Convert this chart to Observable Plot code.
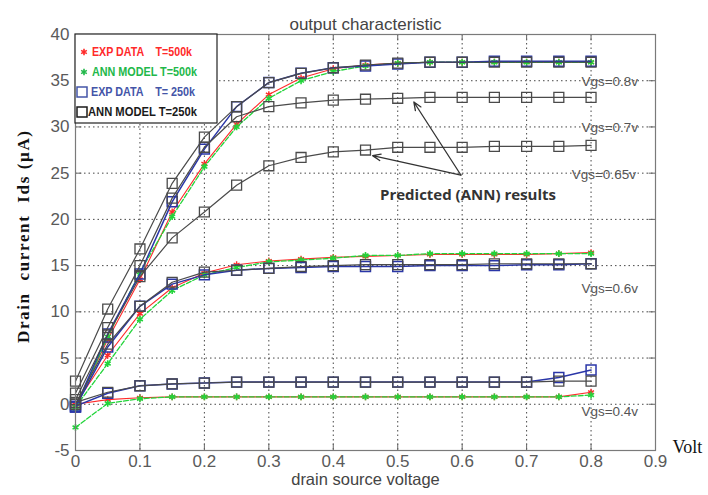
<!DOCTYPE html>
<html><head><meta charset="utf-8">
<script src="https://cdn.jsdelivr.net/npm/d3@7"></script>
<script src="https://cdn.jsdelivr.net/npm/@observablehq/plot@0.6"></script>
<style>body{margin:0;background:#fff}#chart{width:708px;height:495px}</style>
</head><body><div id="chart"></div>
<script>
// ---- data ----
const vds = [0,0.05,0.1,0.15,0.2,0.25,0.3,0.35,0.4,0.45,0.5,0.55,0.6,0.65,0.7,0.75,0.8];
const xTicks = [0,0.1,0.2,0.3,0.4,0.5,0.6,0.7,0.8,0.9];
const yTicks = [-5,0,5,10,15,20,25,30,35,40];

// Vgs = 0.8 V
const exp500_08 = [-0.2,7.0,13.5,20.8,26.0,30.3,33.5,35.3,36.3,36.7,36.9,37.0,37.0,37.0,37.0,37.0,37.0];
const ann500_08 = [-0.5,7.3,14.3,20.3,25.7,30.0,33.1,35.0,36.0,36.6,36.9,37.0,37.0,37.0,37.0,37.0,37.0];
const exp250_08 = [-0.3,7.6,14.1,21.9,27.6,32.2,34.8,35.8,36.4,36.6,36.8,37.0,37.0,37.1,37.1,37.1,37.1];
const ann250_08 = [2.5,10.3,16.8,23.9,28.9,32.2,34.8,35.8,36.4,36.7,36.9,37.0,37.0,37.0,37.0,37.0,37.0];
// Vgs = 0.7 V and 0.65 V (ANN prediction only)
const ann250_07 = [1.2,8.3,15.0,22.3,27.8,31.1,32.2,32.6,32.9,33.0,33.1,33.2,33.2,33.2,33.2,33.2,33.2];
const ann250_065 = [0.5,7.5,13.8,18.0,20.8,23.7,25.8,26.7,27.3,27.5,27.8,27.8,27.8,27.9,27.9,27.9,28.0];
// Vgs = 0.6 V
const exp500_06 = [0.0,5.3,9.8,12.6,14.2,15.1,15.5,15.7,15.9,16.0,16.1,16.2,16.2,16.2,16.2,16.3,16.4];
const ann500_06 = [-0.3,4.4,9.2,12.3,14.0,14.8,15.4,15.6,15.8,16.1,16.1,16.3,16.3,16.3,16.3,16.3,16.3];
const exp250_06 = [-0.3,6.2,10.6,13.0,14.0,14.5,14.7,14.8,14.9,14.9,14.9,15.0,15.0,15.0,15.1,15.1,15.2];
const ann250_06 = [0.0,6.5,10.6,13.2,14.3,14.5,14.7,14.9,15.0,15.1,15.1,15.1,15.1,15.2,15.2,15.2,15.2];
// Vgs = 0.4 V
const exp500_04 = [0.0,0.5,0.7,0.8,0.8,0.8,0.8,0.8,0.8,0.8,0.8,0.8,0.8,0.8,0.8,0.8,1.3];
const ann500_04 = [-2.5,0.1,0.6,0.8,0.8,0.8,0.8,0.8,0.8,0.8,0.8,0.8,0.8,0.8,0.8,0.8,1.0];
const exp250_04 = [-0.2,1.2,2.0,2.2,2.3,2.4,2.4,2.4,2.4,2.4,2.4,2.4,2.4,2.4,2.4,2.9,3.7];
const ann250_04 = [0.2,1.3,2.0,2.2,2.3,2.4,2.4,2.4,2.4,2.4,2.4,2.4,2.4,2.4,2.4,2.5,2.5];

const legendLabels = ["EXP DATA    T=500k","ANN MODEL T=500k","EXP DATA    T= 250k","ANN MODEL T=250k"];
const vgsLabels = ["Vgs=0.8v","Vgs=0.7v","Vgs=0.65v","Vgs=0.6v","Vgs=0.4v"];
const vgsLabelX = [0.785,0.785,0.77,0.785,0.785];
const vgsLabelY = [34.9,29.9,24.8,12.5,-0.85];
const noteText = "Predicted (ANN) results";
const noteX = 0.609, noteY = 22.6;
const arrowTail = [0.598, 24.8];
const arrowHeadsX = [0.525, 0.461];
const arrowHeadsY = [32.7, 26.9];

// ---- build tables ----
const seriesDefs = [
  {key:"exp500", curves:{"0.8":exp500_08,"0.6":exp500_06,"0.4":exp500_04}},
  {key:"ann500", curves:{"0.8":ann500_08,"0.6":ann500_06,"0.4":ann500_04}},
  {key:"exp250", curves:{"0.8":exp250_08,"0.6":exp250_06,"0.4":exp250_04}},
  {key:"ann250", curves:{"0.8":ann250_08,"0.7":ann250_07,"0.65":ann250_065,"0.6":ann250_06,"0.4":ann250_04}}
];
const rows = {};
for (const s of seriesDefs) {
  rows[s.key] = [];
  for (const [vgs, arr] of Object.entries(s.curves)) {
    arr.forEach((v,i)=>rows[s.key].push({x:vds[i], y:v, curve:vgs}));
  }
}
const vgsRows = vgsLabels.map((t,i)=>({t, x:vgsLabelX[i], y:vgsLabelY[i]}));
const arrows = arrowHeadsX.map((x,i)=>({x1:arrowTail[0], y1:arrowTail[1], x2:x, y2:arrowHeadsY[i]}));

const RED="#ff2a2a", GREEN="#22d43a", BLUE="#2a36a8", BLACK="#4a4a4a";
const grid = {stroke:"#333", strokeOpacity:0.9, strokeDasharray:"1.5,3", strokeWidth:1};
const xMin = 0, xMax = 0.9, yMin = -5, yMax = 40;
const tickLenX = 0.01, tickLenY = 0.7; // inner tick marks (MATLAB style)

const plot = Plot.plot({
  width:708, height:495,
  marginLeft:75, marginRight:53, marginTop:34, marginBottom:45,
  style:{fontFamily:"'Liberation Sans', Arial, sans-serif", background:"#fff"},
  x:{domain:[xMin,xMax]},
  y:{domain:[yMin,yMax]},
  marks:[
    Plot.gridX(xTicks, grid),
    Plot.gridY(yTicks, grid),
    Plot.ruleX(xTicks, {y1:yMin, y2:yMin+tickLenY, stroke:"#666"}),
    Plot.ruleX(xTicks, {y1:yMax, y2:yMax-tickLenY, stroke:"#666"}),
    Plot.ruleY(yTicks, {x1:xMin, x2:xMin+tickLenX, stroke:"#666"}),
    Plot.ruleY(yTicks, {x1:xMax, x2:xMax-tickLenX, stroke:"#666"}),
    Plot.axisX(xTicks, {tickSize:0, tickPadding:4, fontSize:17, fill:"#5a5a5a", label:null, tickFormat:d=>String(d)}),
    Plot.axisY(yTicks, {tickSize:0, tickPadding:6, fontSize:17, fill:"#5a5a5a", label:null, tickFormat:d=>String(d)}),
    Plot.line(rows.exp500, {x:"x", y:"y", z:"curve", stroke:RED, strokeWidth:1.1}),
    Plot.dot(rows.exp500, {x:"x", y:"y", symbol:"asterisk", r:3.2, stroke:RED, strokeWidth:1.4}),
    Plot.line(rows.ann500, {x:"x", y:"y", z:"curve", stroke:GREEN, strokeWidth:1.3, strokeDasharray:"5,2"}),
    Plot.dot(rows.ann500, {x:"x", y:"y", symbol:"asterisk", r:3.2, stroke:GREEN, strokeWidth:1.6}),
    Plot.line(rows.exp250, {x:"x", y:"y", z:"curve", stroke:BLUE, strokeWidth:1.5}),
    Plot.dot(rows.exp250, {x:"x", y:"y", symbol:"square", r:5.6, stroke:BLUE, strokeWidth:1.5, fill:"none"}),
    Plot.line(rows.ann250, {x:"x", y:"y", z:"curve", stroke:BLACK, strokeWidth:1.2}),
    Plot.dot(rows.ann250, {x:"x", y:"y", symbol:"square", r:5.6, stroke:BLACK, strokeWidth:1.3, fill:"none"}),
    Plot.frame({stroke:"#7a7a7a", strokeWidth:1.2}),
    Plot.text(vgsRows, {x:"x", y:"y", text:"t", textAnchor:"start", fontSize:13.5, fill:"#555"}),
    Plot.arrow(arrows, {x1:"x1", y1:"y1", x2:"x2", y2:"y2", stroke:"#333", strokeWidth:1.3, headLength:10, headAngle:45}),
    Plot.text([noteText], {x:noteX, y:noteY, fontSize:15, fontWeight:"bold", fill:"#333", fontFamily:"'Open Sans', sans-serif"}),
    Plot.text(["output characteristic"], {frameAnchor:"top", dy:-17, fontSize:17, fill:"#444"}),
    Plot.text(["drain source voltage"], {frameAnchor:"bottom", dy:34, fontSize:16.5, fill:"#444"}),
    Plot.text(["Volt"], {frameAnchor:"bottom-right", dx:17, dy:2, textAnchor:"start", fontSize:18, fill:"#111", fontFamily:"'Liberation Serif', 'Times New Roman', serif"})
  ]
});
document.getElementById("chart").appendChild(plot);

const svg = d3.select(plot);
// y-axis title
svg.append("text")
  .attr("transform","translate(23,237) rotate(-90)")
  .attr("text-anchor","middle").attr("dy","0.35em")
  .attr("font-family","'Liberation Serif','Times New Roman',serif")
  .attr("font-weight","bold").attr("font-size",17).attr("fill","#111")
  .attr("textLength",212).attr("lengthAdjust","spacing")
  .style("white-space","pre")
  .text("Drain  current  Ids (\u03bcA)");

// ---- legend (inside axes, top-left) ----
const lg = svg.append("g").attr("font-family","'Liberation Sans', Arial, sans-serif").attr("font-size",12.5).attr("font-weight","bold").attr("text-anchor","start");
lg.append("rect").attr("x",75).attr("y",34).attr("width",142).attr("height",89).attr("fill","#fff").attr("stroke","#222").attr("stroke-width",1.2);
const legColors = [RED, "#22b84a", "#4455a8", "#1a1a1a"];
const legSym = ["asterisk","asterisk","square","square"];
const legTextX = [92, 92, 91, 88];
const legTextW = [100, 105, 104, 109];
legendLabels.forEach((t,i)=>{
  const y = 52 + i*20;
  if (legSym[i]==="asterisk") {
    lg.append("path").attr("d", d3.symbol(d3.symbolAsterisk, 30)()).attr("transform",`translate(84,${y})`).attr("stroke",legColors[i]).attr("stroke-width",1.6).attr("fill","none");
  } else {
    lg.append("rect").attr("x",77).attr("y",y-5).attr("width",10).attr("height",10).attr("fill","none").attr("stroke",legColors[i]).attr("stroke-width",1.5);
  }
  lg.append("text").attr("x", legTextX[i]).attr("y", y).attr("dy","0.35em").attr("text-anchor","start")
    .attr("fill",legColors[i]).attr("textLength",legTextW[i]).attr("lengthAdjust","spacingAndGlyphs")
    .style("white-space","pre").text(t);
});
</script>
</body></html>
